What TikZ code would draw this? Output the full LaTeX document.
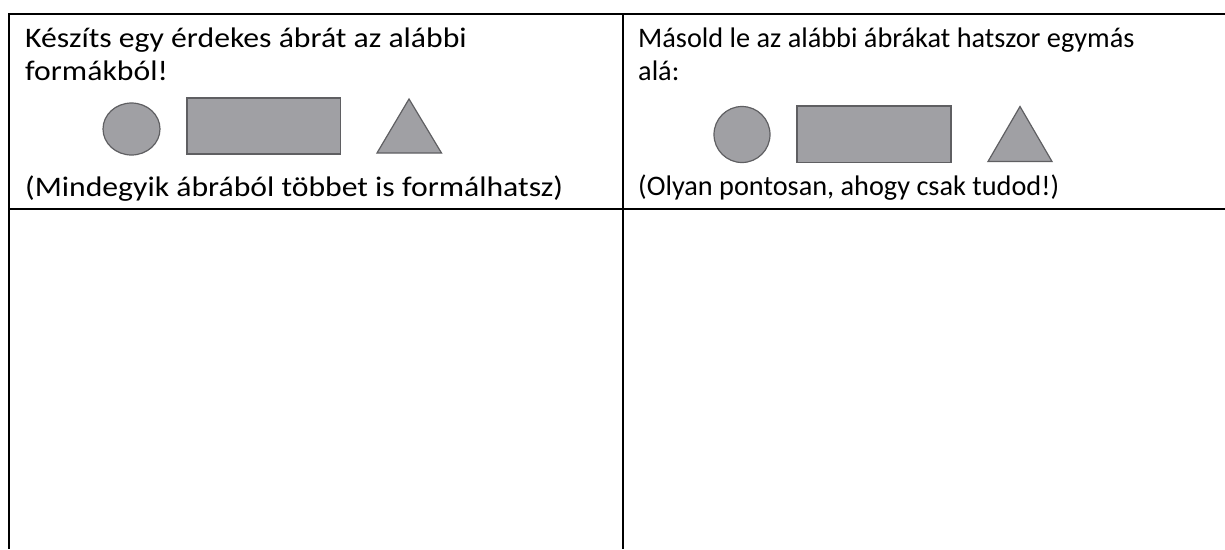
\documentclass[tikz,border=0pt]{standalone}
\usepackage{fontspec}
\setmainfont{Carlito}
\newcommand{\lstretch}[1]{\scalebox{1.12}[1]{#1}}
\begin{document}
\begin{tikzpicture}[x=1pt,y=-1pt,
  rule/.style={line width=2pt,black},
  shp/.style={draw={rgb,255:red,95;green,95;blue,98},fill={rgb,255:red,160;green,160;blue,164},line width=1.2pt},
  txt/.style={anchor=base west,inner sep=0pt,font=\fontsize{28.3}{34}\selectfont}]
\useasboundingbox (0,0) rectangle (1225,549);
\coordinate (tl) at (9,14);
\coordinate (tr) at (1225,14);
\coordinate (ml) at (9,209);
\coordinate (mr) at (1225,209);
\coordinate (bl) at (9,549);
\coordinate (ct) at (623,14);
\coordinate (cb) at (623,549);
\draw[rule] (tr) -- (tl) -- (bl);
\draw[rule] (ml) -- (mr);
\draw[rule] (ct) -- (cb);
% left texts
\node[txt] (l1) at (25,47) {\lstretch{Készíts egy érdekes ábrát az alábbi}};
\node[txt] (l2) at (25,80) {\lstretch{formákból!}};
\node[txt] (l3) at (25,196.5) {\lstretch{(Mindegyik ábrából többet is formálhatsz)}};
% right texts
\node[txt] (r1) at (638,47) {Másold le az alábbi ábrákat hatszor egymás};
\node[txt] (r2) at (638,80) {alá:};
\node[txt] (r3) at (638,195) {(Olyan pontosan, ahogy csak tudod!)};
% left shapes
\draw[shp] (131.5,129) ellipse (28.5 and 26);
\draw[shp] (187,98) rectangle (340.5,154);
\draw[shp] (409,99) -- (441.5,153) -- (377,153) -- cycle;
% right shapes
\draw[shp] (742,134.5) circle (28);
\draw[shp] (797,106) rectangle (951,162.5);
\draw[shp] (1020,106.5) -- (1052,161.5) -- (988,161.5) -- cycle;
\end{tikzpicture}
\end{document}
